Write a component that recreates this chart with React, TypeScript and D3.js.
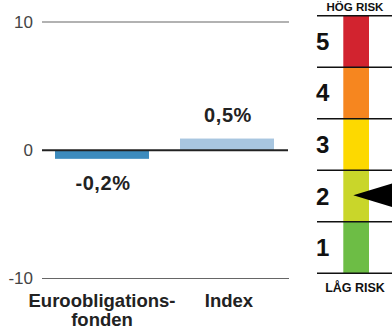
import React from "react";
import * as d3 from "d3";

const categories = ["Euroobligationsfonden", "Index"];
const categoryLines = [["Euroobligations-", "fonden"], ["Index"]];
const values = [-0.2, 0.5];
const valueLabels = ["-0,2%", "0,5%"];
const barColors = ["#3d8bbd", "#a8c6e0"];
const yTicks = [10, 0, -10];
const yTickLabels = ["10", "0", "-10"];

const riskLevels = [5, 4, 3, 2, 1];
const riskColors = ["#d2232f", "#f6861f", "#fdd900", "#c9d62a", "#6dbd45"];
const currentRisk = 2;
const highLabel = "HÖG RISK";
const lowLabel = "LÅG RISK";

const W = 392;
const H = 331;

export default function App() {
  const y = d3.scaleLinear().domain([-10, 10]).range([278.5, 22]);
  const x = d3.scalePoint().domain(categories).range([102, 227]);
  // bars are drawn with an exaggerated magnitude scale
  const mag = d3.scaleLinear().domain([0, 0.5]).range([6.5, 11.7]);
  const zero = y(0);

  const ry = d3.scaleBand<number>().domain(riskLevels).range([15.7, 273.3]);
  const bw = 94;
  const narrow = { fontFamily: "'Liberation Sans Narrow', 'Arial Narrow', sans-serif" };

  return (
    <svg width={W} height={H} style={{ position: "absolute", left: 0, top: 0, fontFamily: "'Liberation Sans', Arial, sans-serif" }}>
      {yTicks.map((t, i) => (
        <g key={t}>
          {t !== 0 && <line x1={42} x2={289} y1={y(t)} y2={y(t)} stroke="#666" strokeWidth={1.2} />}
          <text x={33} y={y(t) + 5.5} textAnchor="end" fontSize={17} fill="#444">{yTickLabels[i]}</text>
        </g>
      ))}
      {values.map((v, i) => {
        const cx = x(categories[i]) as number;
        const m = mag(Math.abs(v));
        const top = v >= 0 ? zero - m : zero;
        return (
          <g key={i}>
            <rect x={cx - bw / 2} y={top} width={bw} height={m} fill={barColors[i]} />
            <text x={cx + 1} y={v >= 0 ? zero - m - 16.5 : zero + m + 31} textAnchor="middle" fontSize={20} fontWeight="bold" fill="#222" letterSpacing={0.6}>{valueLabels[i]}</text>
            {categoryLines[i].map((l, j) => (
              <text key={j} x={cx + (i === 1 ? 2 : 0)} y={306.5 + j * 19.5} textAnchor="middle" fontSize={18.5} fontWeight="bold" fill="#222">{l}</text>
            ))}
          </g>
        );
      })}
      <line x1={42} x2={288} y1={zero} y2={zero} stroke="#222" strokeWidth={2.2} />

      <text x={355} y={10.5} textAnchor="middle" fontSize={11.5} fontWeight="bold" fill="#111" style={narrow}>{highLabel}</text>
      {riskLevels.map((r, i) => (
        <g key={r}>
          <rect x={343.3} y={ry(r) as number} width={25.7} height={ry.bandwidth()} fill={riskColors[i]} />
          <text x={316} y={(ry(r) as number) + ry.bandwidth() / 2 + 8.5} fontSize={24} fontWeight="bold" fill="#111">{r}</text>
        </g>
      ))}
      {[...riskLevels.map((r) => ry(r) as number), 273.3].map((yy, i) => (
        <line key={i} x1={317} x2={392} y1={yy} y2={yy} stroke="#111" strokeWidth={1.6} />
      ))}
      {(() => {
        const cy = (ry(currentRisk) as number) + ry.bandwidth() / 2 - 0.8;
        return <polygon points={`353.3,${cy} 393,${cy - 12} 393,${cy + 12}`} fill="#000" />;
      })()}
      <text x={355} y={292} textAnchor="middle" fontSize={12.5} fontWeight="bold" fill="#111" style={narrow}>{lowLabel}</text>
    </svg>
  );
}
